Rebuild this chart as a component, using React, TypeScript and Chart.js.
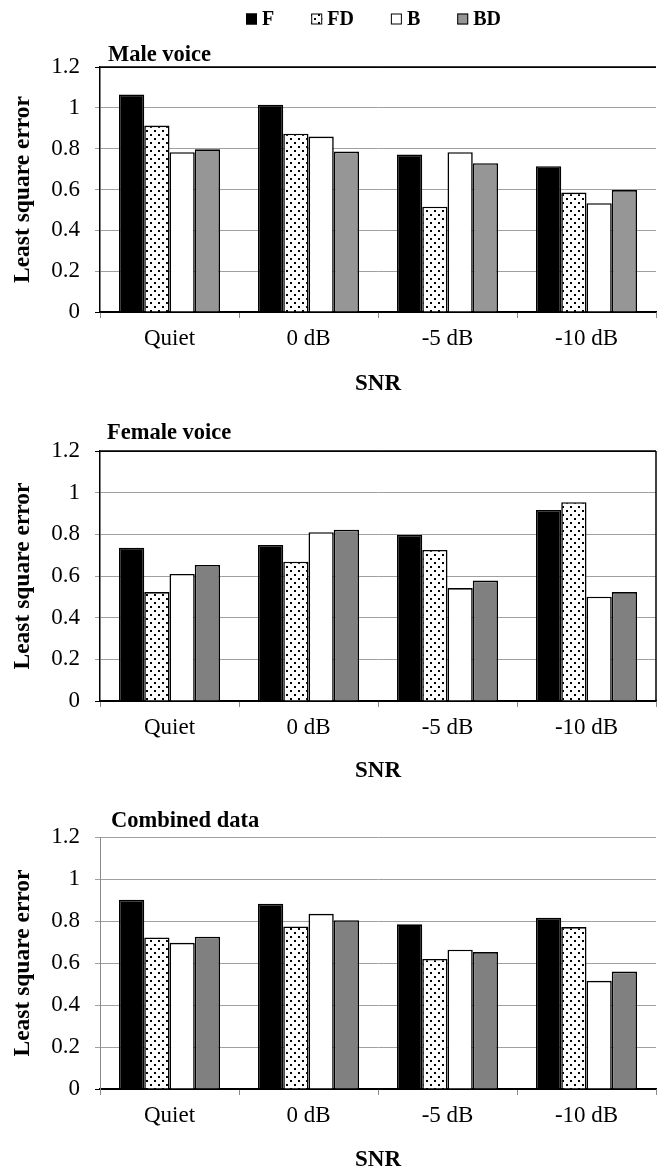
import React, { useEffect, useRef } from 'react';
import { Chart, registerables } from 'chart.js';

Chart.register(...registerables);

const FONT = '"Liberation Serif", "Times New Roman", Times, serif';

const categories = ['Quiet', '0 dB', '-5 dB', '-10 dB'];
const seriesNames = ['F', 'FD', 'B', 'BD'];
const yTickLabels = ['0', '0.2', '0.4', '0.6', '0.8', '1', '1.2'];
const xAxisTitle = 'SNR';
const yAxisTitle = 'Least square error';

const maleF = [1.065, 1.015, 0.771, 0.714];
const maleFD = [0.913, 0.873, 0.516, 0.585];
const maleB = [0.783, 0.859, 0.783, 0.533];
const maleBD = [0.797, 0.786, 0.729, 0.597];

const femaleF = [0.736, 0.749, 0.797, 0.917];
const femaleFD = [0.523, 0.669, 0.725, 0.954];
const femaleB = [0.61, 0.81, 0.542, 0.501];
const femaleBD = [0.653, 0.822, 0.578, 0.523];

const combinedF = [0.901, 0.882, 0.784, 0.815];
const combinedFD = [0.722, 0.774, 0.619, 0.771];
const combinedB = [0.696, 0.834, 0.663, 0.515];
const combinedBD = [0.725, 0.804, 0.652, 0.559];

function makeDots(): CanvasPattern | string {
  const c = document.createElement('canvas');
  c.width = 8;
  c.height = 8;
  const g = c.getContext('2d');
  if (!g) return '#fff';
  g.fillStyle = '#fff';
  g.fillRect(0, 0, 8, 8);
  g.fillStyle = '#000';
  g.fillRect(2, 2, 2, 2);
  g.fillRect(6, 6, 2, 2);
  const p = g.createPattern(c, 'repeat');
  return p || '#fff';
}

const decorPlugin = {
  id: 'decor',
  afterDraw(chart: any, _args: any, opts: any) {
    const { ctx, chartArea: ca } = chart;
    ctx.save();
    ctx.fillStyle = '#000';
    ctx.textAlign = 'left';
    ctx.textBaseline = 'alphabetic';
    ctx.font = `bold 22.5px ${FONT}`;
    ctx.fillText(opts.title, opts.titleX, opts.titleY);
    ctx.strokeStyle = '#000';
    ctx.lineWidth = 1.5;
    if (opts.topLine) {
      ctx.beginPath();
      ctx.moveTo(ca.left, ca.top);
      ctx.lineTo(ca.right, ca.top);
      ctx.stroke();
    }
    if (opts.rightLine) {
      ctx.beginPath();
      ctx.moveTo(ca.right, ca.top);
      ctx.lineTo(ca.right, ca.bottom);
      ctx.stroke();
    }
    if (opts.legend) {
      let x = opts.legendX;
      const boxTop = opts.legendBoxTop;
      ctx.font = `bold 20px ${FONT}`;
      chart.data.datasets.forEach((ds: any) => {
        ctx.fillStyle = ds.backgroundColor;
        ctx.fillRect(x, boxTop, 11, 11);
        ctx.strokeStyle = '#000';
        ctx.lineWidth = 1;
        ctx.strokeRect(x + 0.5, boxTop + 0.5, 10, 10);
        ctx.fillStyle = '#000';
        ctx.fillText(ds.label, x + 16, opts.legendBaseline);
        x += 16 + ctx.measureText(ds.label).width + 37;
      });
    }
    ctx.restore();
  },
};

type PanelSpec = {
  height: number;
  values: number[][];
  bdColor: string;
  padTop: number;
  xHeight: number;
  xTitlePad: number;
  title: string;
  titleX: number;
  titleY: number;
  topLine: boolean;
  rightLine: boolean;
  leftColor: string;
  leftWidth: number;
  topGridColor: string;
  legend: boolean;
};

function Panel({ spec }: { spec: PanelSpec }) {
  const ref = useRef<HTMLCanvasElement | null>(null);
  useEffect(() => {
    if (!ref.current) return;
    const dots = makeDots();
    const fills = ['#000000', dots, '#ffffff', spec.bdColor];
    const chart = new Chart(ref.current, {
      type: 'bar',
      data: {
        labels: categories,
        datasets: seriesNames.map((name, i) => ({
          label: name,
          data: spec.values[i],
          backgroundColor: fills[i] as any,
          borderColor: '#000',
          borderWidth: 1.6,
          categoryPercentage: 0.727,
          barPercentage: 1.0,
        })),
      },
      options: {
        responsive: false,
        animation: false,
        devicePixelRatio: 1,
        layout: { padding: { top: spec.padTop, left: 0, right: 1, bottom: 0 } },
        plugins: {
          legend: { display: false },
          title: { display: false },
          tooltip: { enabled: false },
          decor: {
            title: spec.title,
            titleX: spec.titleX,
            titleY: spec.titleY,
            topLine: spec.topLine,
            rightLine: spec.rightLine,
            legend: spec.legend,
            legendX: 246,
            legendBoxTop: 13.5,
            legendBaseline: 25,
          },
        } as any,
        scales: {
          x: {
            afterFit: (scale: any) => {
              scale.height = spec.xHeight;
            },
            grid: {
              offset: true,
              drawOnChartArea: false,
              drawTicks: true,
              tickLength: 6,
              color: '#8a8a8a',
            },
            border: { display: true, color: '#000', width: 1.5 },
            ticks: {
              color: '#000',
              font: { family: FONT, size: 23 },
              padding: 7,
              maxRotation: 0,
            },
            title: {
              display: true,
              text: xAxisTitle,
              color: '#000',
              font: { family: FONT, size: 23, weight: 'bold', lineHeight: 1 },
              padding: { top: 0, bottom: spec.xTitlePad },
            },
          },
          y: {
            min: 0,
            max: 1.2,
            afterFit: (scale: any) => {
              scale.width = 100;
            },
            grid: {
              drawTicks: true,
              tickLength: 5,
              lineWidth: 1,
              color: (c: any) =>
                c.tick && c.tick.value === 0
                  ? '#000'
                  : c.tick && Math.abs(c.tick.value - 1.2) < 1e-6
                  ? spec.topGridColor
                  : '#a0a0a0',
            },
            border: { display: true, color: spec.leftColor, width: spec.leftWidth },
            ticks: {
              stepSize: 0.2,
              color: '#000',
              padding: 15,
              font: { family: FONT, size: 23 },
              callback: (_v: any, i: number) => yTickLabels[i],
            },
            title: {
              display: true,
              text: yAxisTitle,
              color: '#000',
              font: { family: FONT, size: 23.5, weight: 'bold', lineHeight: 1.2 },
              padding: { top: 9, bottom: 0 },
            },
          },
        },
      },
      plugins: [decorPlugin as any],
    });
    return () => chart.destroy();
  }, [spec]);
  return <canvas ref={ref} width={657} height={spec.height} style={{ display: 'block' }} />;
}

const panels: PanelSpec[] = [
  {
    height: 400,
    values: [maleF, maleFD, maleB, maleBD],
    bdColor: '#969696',
    padTop: 67,
    xHeight: 88,
    xTitlePad: 4,
    title: 'Male voice',
    titleX: 108,
    titleY: 61,
    topLine: true,
    rightLine: false,
    leftColor: '#000',
    leftWidth: 1.5,
    topGridColor: '#000',
    legend: true,
  },
  {
    height: 390,
    values: [femaleF, femaleFD, femaleB, femaleBD],
    bdColor: '#808080',
    padTop: 51,
    xHeight: 89,
    xTitlePad: 7,
    title: 'Female voice',
    titleX: 107,
    titleY: 39,
    topLine: true,
    rightLine: true,
    leftColor: '#000',
    leftWidth: 1.5,
    topGridColor: '#000',
    legend: false,
  },
  {
    height: 382,
    values: [combinedF, combinedFD, combinedB, combinedBD],
    bdColor: '#808080',
    padTop: 47,
    xHeight: 83,
    xTitlePad: 0,
    title: 'Combined data',
    titleX: 111,
    titleY: 37,
    topLine: false,
    rightLine: false,
    leftColor: '#8a8a8a',
    leftWidth: 1,
    topGridColor: '#a0a0a0',
    legend: false,
  },
];

export default function App() {
  return (
    <div
      style={{
        position: 'absolute',
        left: 0,
        top: 0,
        width: 657,
        height: 1172,
        background: '#fff',
      }}
    >
      {panels.map((p, i) => (
        <Panel key={i} spec={p} />
      ))}
    </div>
  );
}
